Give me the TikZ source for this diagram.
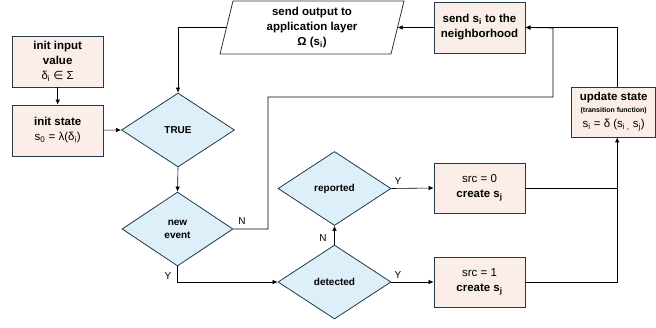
\documentclass[tikz,border=0pt]{standalone}
\usepackage{fontspec}
\setmainfont{Liberation Sans}
\newfontfamily\symfont{DejaVu Sans}
\usetikzlibrary{shapes.geometric,arrows.meta,calc}
\definecolor{edgecol}{HTML}{22394A}
\definecolor{boxfill}{HTML}{FBEEE8}
\definecolor{decfill}{HTML}{DDEFF8}
\tikzset{
  procbox/.style={draw=edgecol, fill=boxfill, line width=0.8pt, align=center,
    inner sep=1pt, minimum width=91pt, minimum height=51pt,
    font=\fontsize{11.5}{15}\selectfont},
  decision/.style={diamond, draw=edgecol, fill=decfill, line width=0.8pt,
    align=center, inner sep=0pt, minimum width=113pt, minimum height=74pt,
    font=\fontsize{10}{13}\selectfont\bfseries},
  flow/.style={draw=black, line width=0.6pt},
  arr/.style={flow, -{Latex[length=5pt,width=4.5pt]}},
  tag/.style={font=\fontsize{10}{12}\selectfont, inner sep=0pt}
}
\begin{document}
\begin{tikzpicture}[x=1pt,y=-1pt]
\useasboundingbox (0,0) rectangle (656,327);

% initialisation
\node[procbox] (inval) at (57.7,61.5) {\textbf{init input}\\\textbf{value}\\δ\textsubscript{i} {\symfont ∈} Σ};
\node[procbox] (inst) at (57.7,130.5) {\textbf{init state}\\s\textsubscript{0} = λ(δ\textsubscript{i})};

% decisions
\node[decision] (true) at (178,130) {TRUE};
\node[decision, minimum width=111pt] (ev) at (177.5,229) {new\\event};
\node[decision] (rep) at (334.5,188.5) {reported};
\node[decision] (det) at (334.5,282) {detected};

% processing boxes
\node[procbox, minimum height=50pt] (src0) at (479.5,188) {src = 0\\\textbf{create s\textsubscript{j}}};
\node[procbox, minimum height=50pt] (src1) at (479.5,282) {src = 1\\\textbf{create s\textsubscript{j}}};
\node[procbox] (send) at (479.5,27.5) {\textbf{send s\textsubscript{i} to the}\\\textbf{neighborhood}};
\node[procbox, minimum width=84pt, minimum height=50pt] (upd) at (613.7,112)
  {\textbf{update state}\\[-3pt]{\fontsize{7}{8}\selectfont\bfseries (transition function)}\\s\textsubscript{i} = δ (s\textsubscript{i ,} s\textsubscript{j})};

% output parallelogram, with its text node on top
\draw[draw=edgecol, fill=white, line width=0.8pt]
  (220,54) -- (233,1) -- (404,1) -- (391,54) -- cycle;
\node[align=center, inner sep=0pt, minimum width=171pt, minimum height=53pt,
  font=\fontsize{11.5}{15}\selectfont\bfseries] (out) at (312,27.5)
  {send output to\\application layer\\Ω (s\textsubscript{i})};

% connectors
\coordinate (ncorner) at (268,97);
\coordinate (nmerge) at (553,28);
\coordinate (join) at (617,188);

\draw[arr] (inval) -- (inst);
\draw[arr] (inst) -- (true.west);
\draw[arr] (out.west) -| (true.north);
\draw[arr] (true.south) -- (ev.north);
\draw[arr] (ev.south) |- (det.west);
\draw[arr] (ev.east) -| (ncorner) -| (nmerge) -- (send.east);
\draw[arr] (det.north) -- (rep.south);
\draw[arr] (rep.east) -- (src0.west);
\draw[arr] (det.east) -- (src1.west);
\draw[flow] (src1.east) -| (join);
\draw[arr] (src0.east) -| ([xshift=3.5pt]upd.south);
\draw[arr] ([xshift=3.5pt]upd.north) |- (send.east);
\draw[arr] (send.west) -- (out.east);

% branch labels
\node[tag] at (242,221) {N};
\node[tag] at (168,276) {Y};
\node[tag] at (323,238) {N};
\node[tag] at (398,181) {Y};
\node[tag] at (398,275) {Y};
\end{tikzpicture}
\end{document}
